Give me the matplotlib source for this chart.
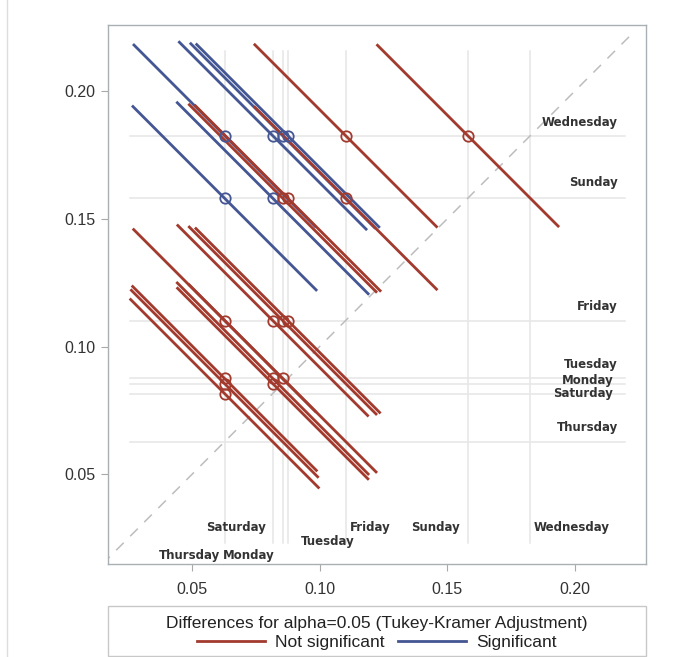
import numpy as np
import matplotlib
matplotlib.use("Agg")
import matplotlib.pyplot as plt
from matplotlib.lines import Line2D
from matplotlib.patches import Rectangle

plt.rcParams['font.family'] = ['Liberation Sans', 'DejaVu Sans']

# group means (same on both axes)
days = ['Thursday', 'Saturday', 'Monday', 'Tuesday', 'Friday', 'Sunday', 'Wednesday']
means = [0.0627, 0.0816, 0.0855, 0.0875, 0.1102, 0.1581, 0.1826]

# pairwise comparisons: lower group, higher group, half width of the segment, significant?
pair_lo = ['Thursday', 'Thursday', 'Thursday', 'Thursday', 'Thursday', 'Thursday',
           'Saturday', 'Saturday', 'Saturday', 'Saturday', 'Saturday',
           'Monday', 'Monday', 'Monday', 'Monday',
           'Tuesday', 'Tuesday', 'Tuesday',
           'Friday', 'Friday',
           'Sunday']
pair_hi = ['Saturday', 'Monday', 'Tuesday', 'Friday', 'Sunday', 'Wednesday',
           'Monday', 'Tuesday', 'Friday', 'Sunday', 'Wednesday',
           'Tuesday', 'Friday', 'Sunday', 'Wednesday',
           'Friday', 'Sunday', 'Wednesday',
           'Sunday', 'Wednesday',
           'Wednesday']
half_width = [0.0372, 0.0369, 0.0364, 0.0360, 0.0363, 0.0359,
              0.0377, 0.0378, 0.0376, 0.0378, 0.0370,
              0.0370, 0.0370, 0.0370, 0.0364,
              0.0364, 0.0366, 0.0361,
              0.0360, 0.0360,
              0.0358]
significant = [False, False, False, False, True, True,
               False, False, False, True, True,
               False, False, False, True,
               False, False, True,
               False, False,
               False]

# where SAS put the group labels
bottom_label_xy = {'Saturday': (0.0672, 0.0291), 'Friday': (0.1200, 0.0291),
                   'Sunday': (0.1456, 0.0291), 'Wednesday': (0.1989, 0.0291),
                   'Tuesday': (0.1032, 0.0236), 'Thursday': (0.0490, 0.0180),
                   'Monday': (0.0721, 0.0180)}
right_label_xy = {'Wednesday': (0.2170, 0.1877), 'Sunday': (0.2170, 0.1642),
                  'Friday': (0.2170, 0.1156), 'Tuesday': (0.2170, 0.0928),
                  'Monday': (0.2151, 0.0866), 'Saturday': (0.2151, 0.0815),
                  'Thursday': (0.2170, 0.0683)}

red = '#A23A2E'
blue = '#445694'
refcol = '#E6E6E6'

fig = plt.figure(figsize=(6.88, 6.57), dpi=100)
ax = fig.add_axes([108 / 688, 92.7 / 657, 538.3 / 688, 538.9 / 657])
ax.set_xlim(0.0170, 0.2281)
ax.set_ylim(0.0147, 0.2258)

m = dict(zip(days, means))

# reference lines at each mean
for v in means:
    ax.plot([v, v], [0.0229, 0.2157], color=refcol, lw=1.1, zorder=1)
    ax.plot([0.0255, 0.2199], [v, v], color=refcol, lw=1.1, zorder=1)

# diagonal
ax.plot([0.0147, 0.2225], [0.0147, 0.2225], color='#BDBDBD', lw=1.1,
        dashes=(7, 6), zorder=2)

# blue first, red on top
for want in (True, False):
    for lo, hi, d, s in zip(pair_lo, pair_hi, half_width, significant):
        if s != want:
            continue
        c = blue if s else red
        x, y = m[lo], m[hi]
        ax.plot([x - d, x + d], [y + d, y - d], color=c, lw=2.0,
                solid_capstyle='butt', zorder=3)
        ax.plot(x, y, 'o', ms=7.5, mfc='none', mec=c, mew=1.3, zorder=4)

for name, (x, y) in bottom_label_xy.items():
    ax.text(x, y, name, ha='center', va='center', fontsize=8.5,
            fontweight='bold', family='DejaVu Sans', color='#333333', zorder=5)
for name, (x, y) in right_label_xy.items():
    ax.text(x, y, name, ha='right', va='center', fontsize=8.5,
            fontweight='bold', family='DejaVu Sans', color='#333333', zorder=5)

ax.set_xticks([0.05, 0.10, 0.15, 0.20])
ax.set_yticks([0.05, 0.10, 0.15, 0.20])
ax.set_xticklabels(['0.05', '0.10', '0.15', '0.20'])
ax.set_yticklabels(['0.05', '0.10', '0.15', '0.20'])
ax.tick_params(length=5, width=0.8, color='#A9A9A9', labelcolor='#333333',
               labelsize=11.5, pad=4)
ax.tick_params(axis='x', pad=8)
for sp in ax.spines.values():
    sp.set_color('#A9B0B4')
    sp.set_linewidth(1.0)

# legend box below the plot
fig.patches.append(Rectangle((108 / 688, 1.5 / 657), 538 / 688, 50 / 657,
                             transform=fig.transFigure, fill=False,
                             edgecolor='#C8C8C8', lw=1.0))
handles = [Line2D([], [], color=red, lw=2.0), Line2D([], [], color=blue, lw=2.0)]
leg = fig.legend(handles, ['Not significant', 'Significant'], ncol=2,
                 title='Differences for alpha=0.05 (Tukey-Kramer Adjustment)',
                 loc='center', bbox_to_anchor=(377 / 688, 24 / 657),
                 frameon=False, fontsize=12.5, title_fontsize=12.5,
                 handlelength=3.9, handletextpad=0.6, columnspacing=0.8,
                 borderpad=0.0, labelspacing=0.2)
for t in leg.get_texts():
    t.set_color('#222222')
leg.get_title().set_color('#222222')

# thin page border at the far left
fig.add_artist(Line2D([7 / 688, 7 / 688], [0, 1], color='#DDDDDD', lw=1.0,
                      transform=fig.transFigure))

fig.savefig('out.png', dpi=100)
